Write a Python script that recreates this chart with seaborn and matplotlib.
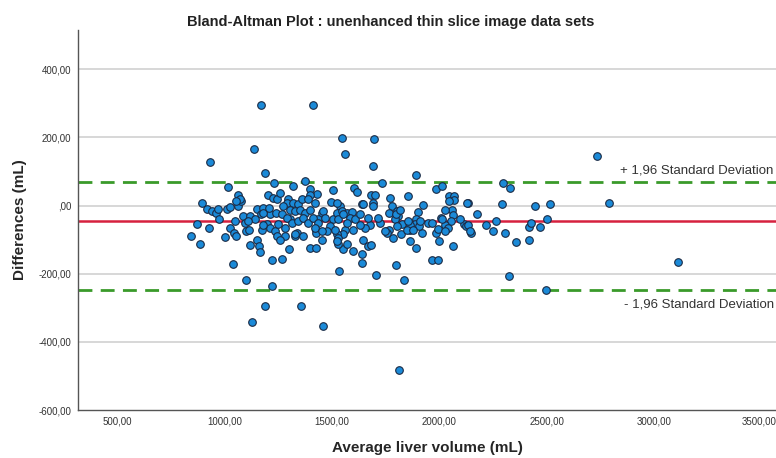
import matplotlib
matplotlib.use("Agg")
import matplotlib.pyplot as plt
import matplotlib.transforms as mtransforms
import seaborn as sns
import pandas as pd

# Average liver volume (mL) and difference (mL) for each case
avg_volume = [
    1168, 1410, 1137, 931, 1190, 1230, 1015, 1320, 1373, 1398,
    1546, 1697, 1563, 1689, 1891, 1731, 1984, 2012, 1506, 1604, 1615, 1855, 1771, 2046,
    1680, 1700, 1689, 1638, 1431, 1924, 1778,
    2731, 2297, 2328, 2131, 2292, 2444, 2514, 2176, 2261, 2215, 2115, 2122, 2146, 2247,
    2307, 2358, 2416, 2416, 2425, 2467, 2498, 2061, 2324, 2496, 2069, 2069, 2058, 2062, 2053,
    2788, 3111,
    894, 917, 940, 963, 968, 1010, 1026, 1064, 1077, 873, 843, 886, 929, 974, 1002, 1026,
    1044, 1056, 1041, 1119, 1100, 1115, 1152, 1162, 1165, 1220, 1269, 1302, 1100, 1221,
    1188, 1356, 1126, 1087, 1152, 1168, 1196, 1212, 1235, 1243, 1180, 1212, 1240, 1250,
    1281, 1305, 1336, 1328, 1367, 1398, 1424, 1428, 1428,
    1460, 1532, 1703, 1797, 1836, 1641, 1641, 1599, 1552, 1669, 1646, 1529, 1863, 1891,
    1782, 1821, 1919, 1964, 1991, 1984, 1998, 2005, 2026, 2041, 1495, 1537, 1692, 2044,
    1765, 1801, 1805, 1793, 1901, 1893, 1886, 1906, 1863, 1863, 1824, 1801, 1757, 1766,
    1754, 1723, 1715, 1677, 1669, 1653, 1630, 1599, 1560, 1552, 1522, 1529, 1506, 1522,
    1545, 1568, 1591, 1584, 1491, 1475, 1452, 1437, 1452,
    1064, 1072, 1056, 1049, 1119, 1142, 1180, 1208, 1204, 1227, 1243, 1173, 1180, 1095, 1111,
    1258, 1296, 1289, 1273, 1320, 1343, 1359, 1398, 1390, 1421, 1305, 1328, 1351, 1374,
    1398, 1266, 1289, 1312, 1343, 1366, 1390, 1413, 1436, 1459, 1467, 1529, 1552, 1568,
    1607, 1630, 1646, 1522, 1281, 1258, 1328, 1421, 1452, 1514, 1522, 1568,
    1798, 1816, 2026, 2126, 1855, 1909, 1948, 1964, 2010, 2095, 2134, 1747, 1848, 1878,
    1994, 2026, 1683, 2142,
    1810,
]
difference = [
    295, 295, 167, 127, 94, 67, 54, 57, 73, 49,
    199, 194, 150, 115, 89, 66, 47, 58, 45, 50, 39, 29, 23, 27,
    31, 31, 8, 5, 34, 1, 0,
    145, 67, 51, 6, 3, -2, 3, -26, -45, -56, -54, -61, -80, -74,
    -80, -108, -102, -62, -51, -62, -41, -118, -206, -248, 27, 15, -12, -28, -46,
    6, -165,
    8, -10, -17, -22, -10, -9, -4, 0, 13, -53, -88, -113, -66, -41, -93, -66,
    -80, -88, -171, -115, -74, -71, -100, -120, -137, -159, -156, -129, -218, -235,
    -294, -294, -341, -31, -10, -26, -53, -66, -76, -90, -7, -26, -22, -53,
    -66, -41, -80, -90, -90, -124, -124, -71, -80,
    -353, -191, -203, -176, -218, -169, -141, -134, -129, -118, -100, -113, -105, -124,
    -95, -85, -80, -159, -159, -80, -105, -36, -56, -66, 10, 0, -2, 13,
    -22, -15, -31, -41, -20, -41, -53, -61, -71, -56, -53, -61, -76, -71,
    -80, -51, -36, -56, -36, -66, -56, -71, -71, -85, -85, -95, -41, -22,
    -17, -22, -20, -36, -61, -76, -22, -41, -100,
    32, 18, 13, -46, -31, -39, -22, -7, 32, 23, 18, -71, -56, -51, -46,
    37, 20, 8, -2, 8, 3, 18, 32, 20, 8, -12, -17, -12, -22,
    -12, -26, -36, -51, -46, -36, -51, -36, -51, -17, -36, -41, -26, -51,
    -41, -26, 3, 8, -90, -100, -85, -66, -76, -71, -105, -112,
    -26, -12, -12, 8, -46, -46, -51, -51, -41, -41, -56, -76, -71, -71,
    -69, -76, -115, -76,
    -482,
]

mean_diff = -44
upper_loa = 70
lower_loa = -247

x_ticks = [500, 1000, 1500, 2000, 2500, 3000, 3500]
x_tick_labels = ["500,00", "1000,00", "1500,00", "2000,00", "2500,00", "3000,00", "3500,00"]
y_ticks = [-600, -400, -200, 0, 200, 400]
y_tick_labels = ["-600,00", "-400,00", "-200,00", ",00", "200,00", "400,00"]

df = pd.DataFrame({"avg": avg_volume, "diff": difference})

sns.set_theme(style="white")
plt.rcParams["font.family"] = ["Liberation Sans", "DejaVu Sans"]

fig = plt.figure(figsize=(7.76, 4.58), dpi=100)
ax = fig.add_axes([0.1005, 0.1048, 0.8995, 0.8297])

ax.set_xlim(319, 3565)
ax.set_ylim(-600, 515)

for yt in [-400, -200, 0, 200, 400]:
    ax.axhline(yt, color="#d4d4d4", lw=1.3, zorder=0)

ax.axhline(upper_loa, color="#3a9a2a", lw=2.0, ls=(0, (5, 3)), zorder=1)
ax.axhline(lower_loa, color="#3a9a2a", lw=2.0, ls=(0, (5, 3)), zorder=1)
ax.axhline(mean_diff, color="#d6213f", lw=1.8, zorder=1)

sns.scatterplot(data=df, x="avg", y="diff", ax=ax, s=30, color="#1b8ad8",
                edgecolor="#1a2a44", linewidth=0.8, zorder=3, legend=False)

ax.text(3555, 103, "+ 1,96 Standard Deviation", ha="right", va="center",
        fontsize=9.5, color="#333333")
ax.text(3555, -291, "- 1,96 Standard Deviation", ha="right", va="center",
        fontsize=9.5, color="#333333")

ax.set_xticks(x_ticks)
ax.set_xticklabels(x_tick_labels, fontsize=7, color="#333333")
ax.set_yticks(y_ticks)
ax.set_yticklabels(y_tick_labels, fontsize=7, color="#333333")
ax.tick_params(axis="both", length=0, pad=5)

# keep the last x tick label inside the figure
last = ax.get_xticklabels()[-1]
last.set_transform(last.get_transform() + mtransforms.ScaledTranslation(-3 / 100, 0, fig.dpi_scale_trans))

for side in ["top", "right"]:
    ax.spines[side].set_visible(False)
for side in ["left", "bottom"]:
    ax.spines[side].set_color("#555555")
    ax.spines[side].set_linewidth(1.0)

ax.set_xlabel("Average liver volume (mL)", fontsize=11, fontweight="bold", labelpad=10)
ax.set_ylabel("Differences (mL)", fontsize=11, fontweight="bold", labelpad=8)

fig.text(0.504, 0.952, "Bland-Altman Plot : unenhanced thin slice image data sets",
         ha="center", va="center", fontsize=10.5, fontweight="bold", color="#222222")

fig.savefig("out.png", dpi=100)
